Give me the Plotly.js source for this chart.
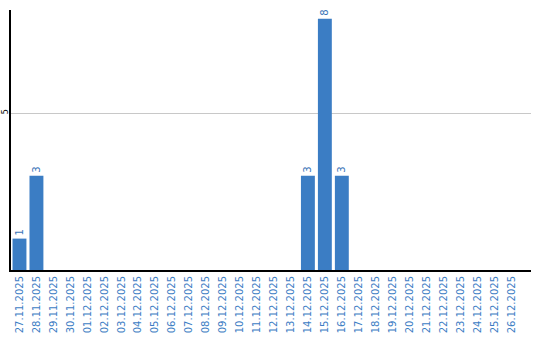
<!DOCTYPE html>
<html><head><meta charset="utf-8">
<script src="https://cdn.plot.ly/plotly-3.0.1.min.js"></script>
<style>html,body{margin:0;padding:0;background:#fff}#c{width:540px;height:340px}</style>
</head><body><div id="c"></div>
<script>
const dates = ["27.11.2025","28.11.2025","29.11.2025","30.11.2025","01.12.2025","02.12.2025","03.12.2025","04.12.2025","05.12.2025","06.12.2025","07.12.2025","08.12.2025","09.12.2025","10.12.2025","11.12.2025","12.12.2025","13.12.2025","14.12.2025","15.12.2025","16.12.2025","17.12.2025","18.12.2025","19.12.2025","20.12.2025","21.12.2025","22.12.2025","23.12.2025","24.12.2025","25.12.2025","26.12.2025"];
const counts = [1,3,0,0,0,0,0,0,0,0,0,0,0,0,0,0,0,3,8,3,0,0,0,0,0,0,0,0,0,0];
const yTicks = [5];

const labels = counts.map(v => v > 0 ? String(v) : "");
Plotly.newPlot("c", [{
  type: "bar", x: dates, y: counts, text: labels,
  textposition: "outside", textangle: -90, cliponaxis: false,
  textfont: {family: "DejaVu Sans", size: 10, color: "#3a75b8"},
  marker: {color: "#3b7dc4"}, hoverinfo: "none"
}], {
  width: 540, height: 340,
  margin: {l: 11, r: 9, t: 10, b: 70, pad: 0},
  paper_bgcolor: "#fff", plot_bgcolor: "#fff",
  bargap: 0.18, showlegend: false,
  font: {family: "DejaVu Sans", size: 10, color: "#000"},
  xaxis: {type: "category", range: [-0.5, 30.15], tickangle: -90,
    tickfont: {family: "DejaVu Sans", size: 10, color: "#3d7dc4"},
    showline: true, linecolor: "#000", linewidth: 2, showgrid: false,
    ticks: "", ticklen: 0, zeroline: false},
  yaxis: {range: [0, 8.28], tickvals: yTicks, ticktext: yTicks.map(String), tickangle: -90,
    tickfont: {family: "DejaVu Sans", size: 8, color: "#000"}, ticklabelstandoff: -2,
    showline: true, linecolor: "#000", linewidth: 2,
    showgrid: true, gridcolor: "#c8c8c8", gridwidth: 1, zeroline: false, ticks: ""}
}, {staticPlot: true});
</script></body></html>
